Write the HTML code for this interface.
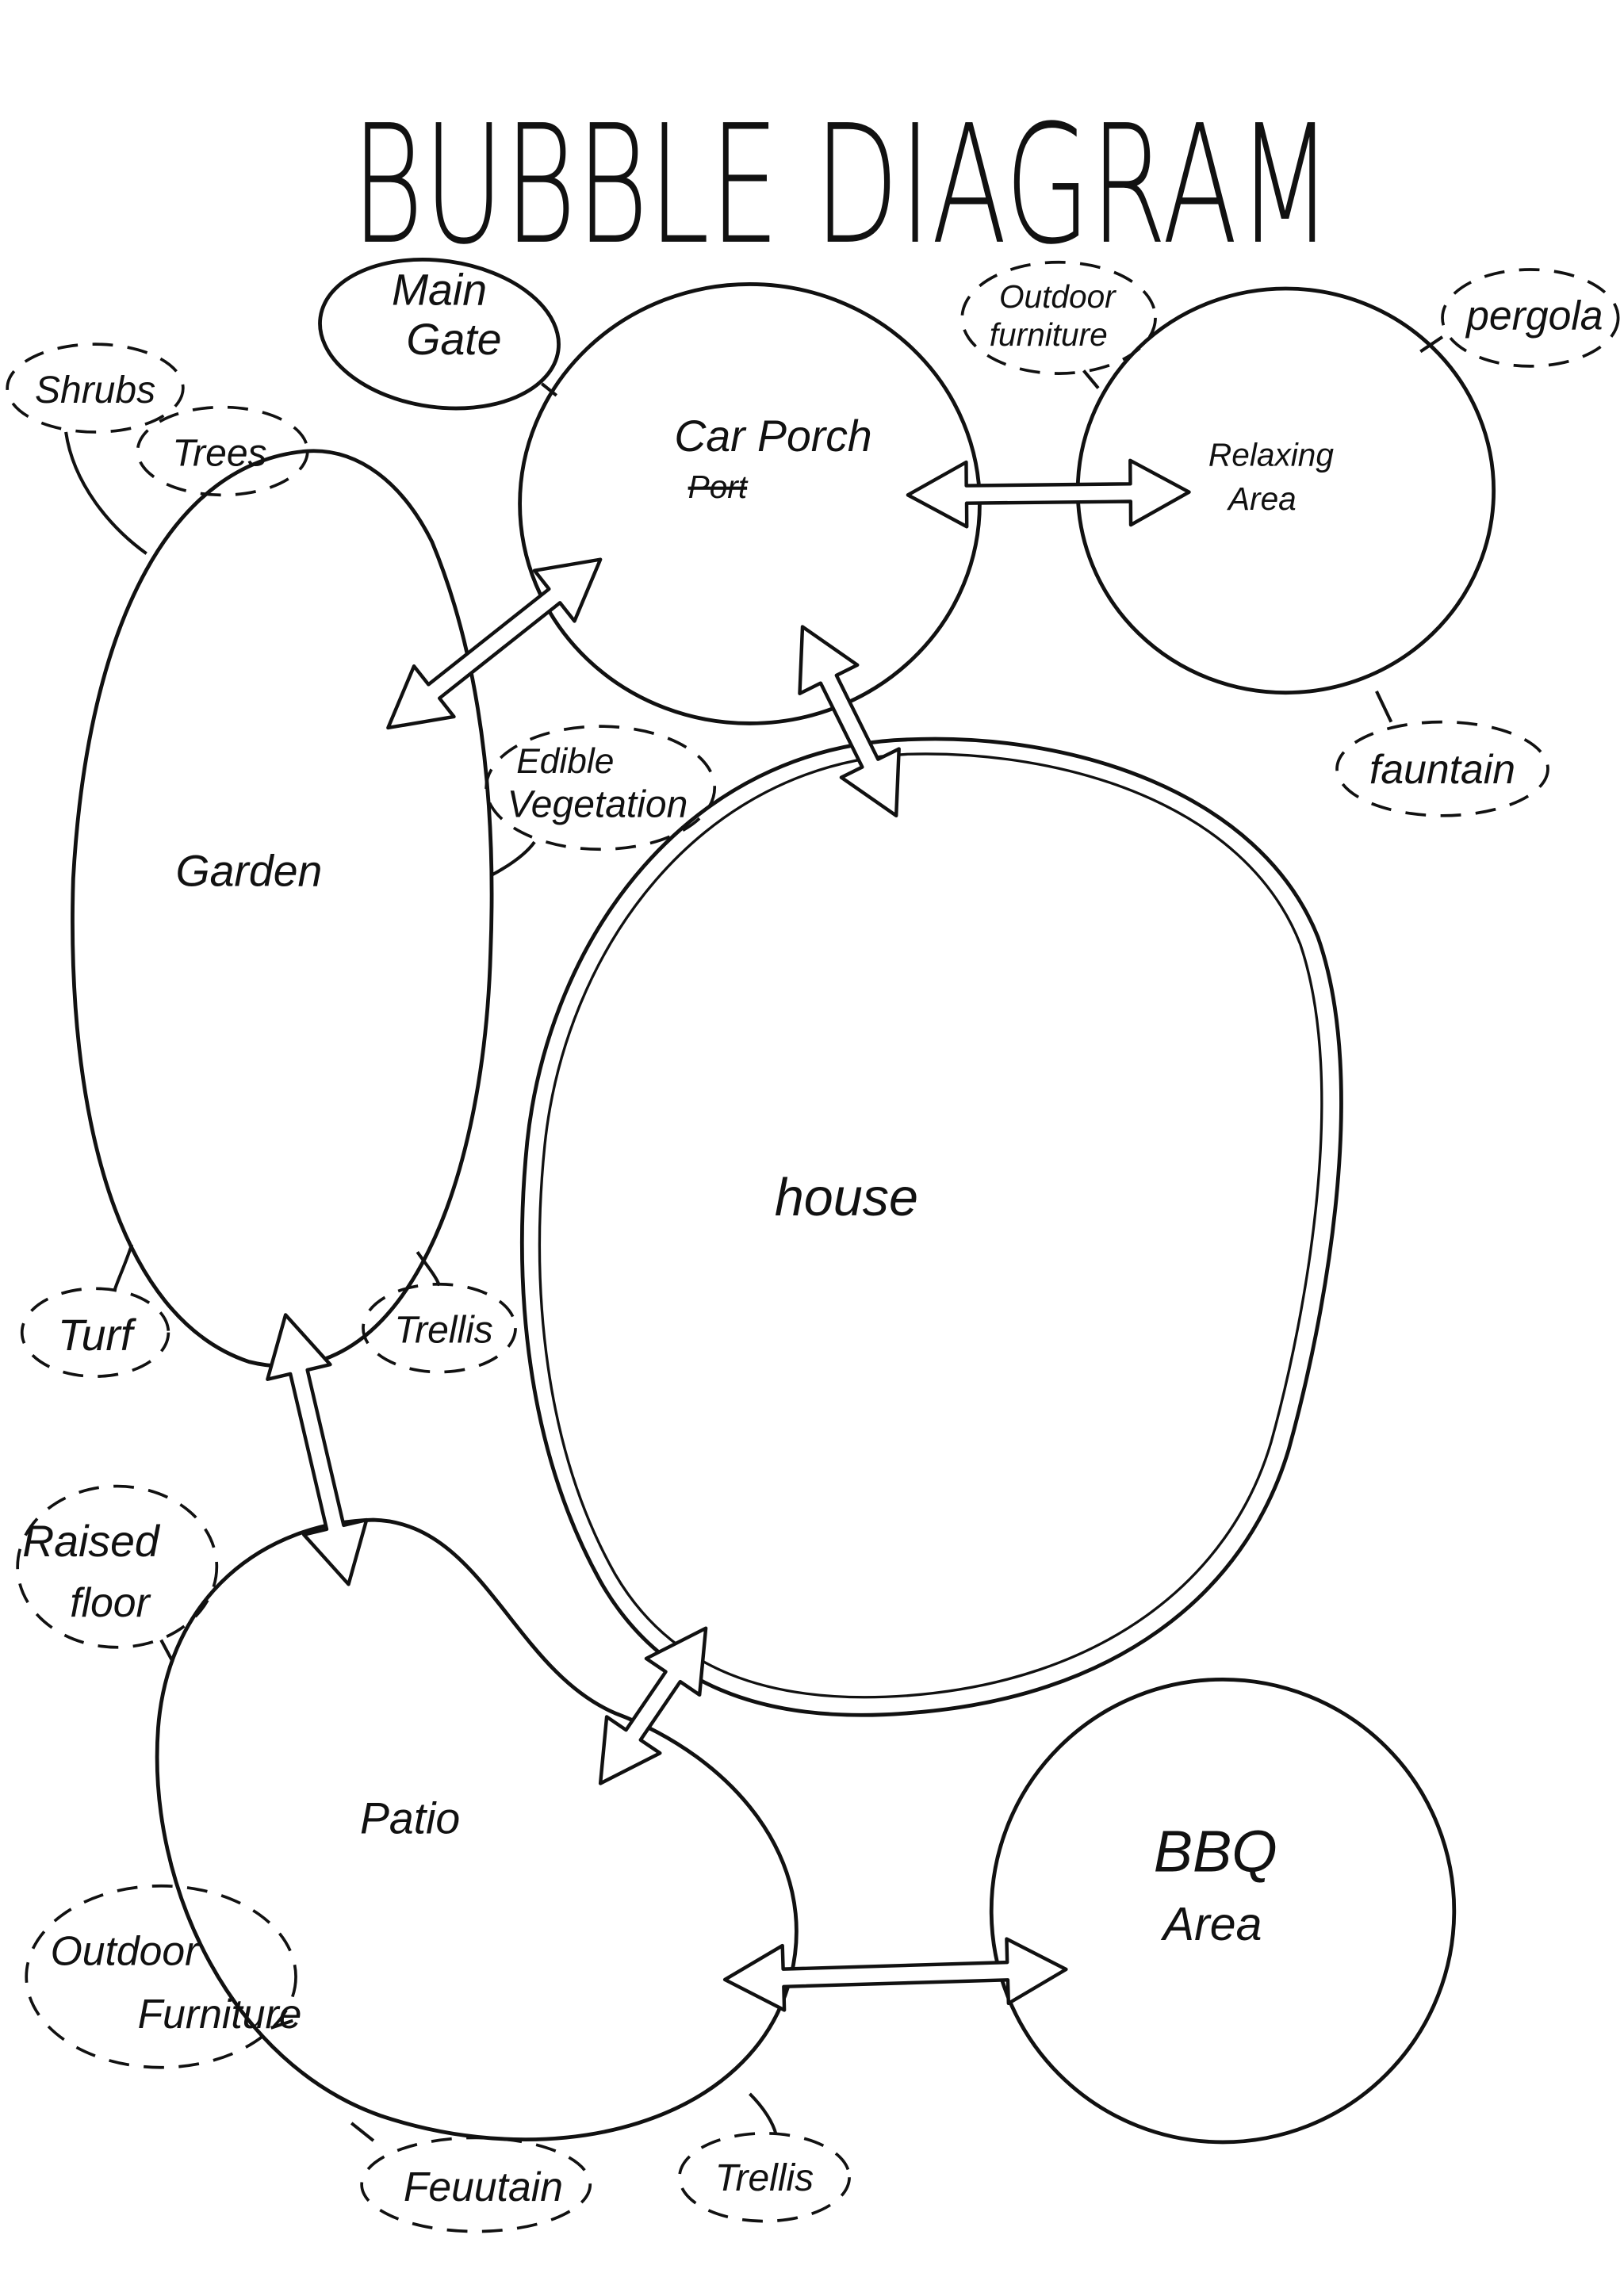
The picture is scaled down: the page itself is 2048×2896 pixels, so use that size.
<!DOCTYPE html>
<html><head><meta charset="utf-8"><style>
html,body{margin:0;padding:0;background:#fff}
svg{display:block}
text{font-family:"Liberation Sans",sans-serif;fill:#111}
</style></head><body>
<svg id="s" width="2048" height="2896" viewBox="0 0 1109 1568" xmlns="http://www.w3.org/2000/svg">
<rect width="1109" height="1568" fill="#fff"/>
<text x="575" y="165" font-size="112" text-anchor="middle" textLength="670" lengthAdjust="spacingAndGlyphs" style="font-family:'DejaVu Sans','Liberation Sans',sans-serif;font-weight:200;fill:#111">BUBBLE DIAGRAM</text>
<g fill="none" stroke="#111" stroke-width="2.6" stroke-linecap="round">
<ellipse cx="300" cy="228" rx="82" ry="50" transform="rotate(8 300 228)"/>
<ellipse cx="512" cy="344" rx="157" ry="150"/>
<ellipse cx="878" cy="335" rx="142" ry="138"/>
<path d="M210 308 C120 315 60 420 50 600 C45 760 80 900 170 930 C270 955 330 820 335 650 C340 520 320 430 295 370 C275 330 245 306 210 308 Z"/>
<path d="M620 505 C730 500 860 540 900 640 C935 740 905 900 880 990 C850 1090 760 1160 620 1170 C520 1178 450 1150 410 1080 C360 990 350 880 360 780 C375 640 470 510 620 505 Z"/>
<path d="M620 515 C725 512 850 548 888 645 C920 740 893 895 868 985 C840 1080 752 1148 620 1158 C525 1165 458 1140 420 1075 C372 990 362 880 372 782 C386 648 478 522 620 515 Z" stroke-width="1.8"/>
<path d="M255 1038 C180 1040 115 1090 108 1180 C100 1290 160 1410 260 1445 C380 1485 515 1450 540 1350 C560 1270 500 1200 420 1170 C350 1140 330 1040 255 1038 Z"/>
<ellipse cx="835" cy="1305" rx="158" ry="158"/>
</g>
<g fill="none" stroke="#111" stroke-width="2" stroke-dasharray="14 10">
<ellipse cx="65" cy="265" rx="60" ry="30"/>
<ellipse cx="152" cy="308" rx="58" ry="30"/>
<ellipse cx="723" cy="217" rx="66" ry="38"/>
<ellipse cx="1045" cy="217" rx="60" ry="33"/>
<ellipse cx="985" cy="525" rx="72" ry="32"/>
<ellipse cx="410" cy="538" rx="78" ry="42"/>
<ellipse cx="65" cy="910" rx="50" ry="30"/>
<ellipse cx="300" cy="907" rx="52" ry="30"/>
<ellipse cx="80" cy="1070" rx="68" ry="55"/>
<ellipse cx="110" cy="1350" rx="92" ry="62"/>
<ellipse cx="325" cy="1492" rx="78" ry="32"/>
<ellipse cx="522" cy="1487" rx="58" ry="30"/>
</g>
<g fill="none" stroke="#111" stroke-width="2.2">
<path d="M45 295 C50 330 75 360 100 378"/>
<path d="M370 262 L380 270"/>
<path d="M740 253 L750 265"/>
<path d="M985 230 L970 240"/>
<path d="M940 472 L950 493"/>
<path d="M335 598 C350 590 360 582 365 575"/>
<path d="M90 850 C85 865 80 875 78 882"/>
<path d="M285 855 C292 865 298 872 300 878"/>
<path d="M110 1120 L118 1135"/>
<path d="M185 1385 L200 1380"/>
<path d="M240 1450 L255 1462"/>
<path d="M512 1430 C522 1440 528 1450 530 1458"/>
</g>
<g id="arrows" fill="#fff" stroke="#111" stroke-width="2.4" stroke-linejoin="round"></g>
<g style="font-family:'Liberation Serif',serif;font-style:italic" font-size="30">
<text x="300" y="208" text-anchor="middle">Main</text>
<text x="310" y="242" text-anchor="middle">Gate</text>
<text x="528" y="308" text-anchor="middle">Car Porch</text>
<text x="490" y="340" text-anchor="middle" font-size="22" text-decoration="line-through">Port</text>
<text x="868" y="318" text-anchor="middle" font-size="22">Relaxing</text>
<text x="862" y="348" text-anchor="middle" font-size="22">Area</text>
<text x="170" y="605" text-anchor="middle">Garden</text>
<text x="578" y="830" text-anchor="middle" font-size="36">house</text>
<text x="280" y="1252" text-anchor="middle">Patio</text>
<text x="830" y="1278" text-anchor="middle" font-size="40">BBQ</text>
<text x="828" y="1325" text-anchor="middle" font-size="32">Area</text>
<text x="65" y="275" text-anchor="middle" font-size="26">Shrubs</text>
<text x="150" y="318" text-anchor="middle" font-size="26">Trees</text>
<text x="722" y="210" text-anchor="middle" font-size="22">Outdoor</text>
<text x="716" y="236" text-anchor="middle" font-size="22">furniture</text>
<text x="1048" y="225" text-anchor="middle" font-size="28">pergola</text>
<text x="985" y="535" text-anchor="middle" font-size="28">fauntain</text>
<text x="386" y="528" text-anchor="middle" font-size="24">Edible</text>
<text x="408" y="558" text-anchor="middle" font-size="26">Vegetation</text>
<text x="65" y="922" text-anchor="middle" font-size="30">Turf</text>
<text x="303" y="917" text-anchor="middle" font-size="26">Trellis</text>
<text x="62" y="1063" text-anchor="middle" font-size="30">Raised</text>
<text x="75" y="1104" text-anchor="middle" font-size="28">floor</text>
<text x="85" y="1342" text-anchor="middle" font-size="28">Outdoor</text>
<text x="150" y="1385" text-anchor="middle" font-size="28">Furniture</text>
<text x="330" y="1503" text-anchor="middle" font-size="28">Feuutain</text>
<text x="522" y="1496" text-anchor="middle" font-size="26">Trellis</text>
</g>
</svg>
<script>
function arrow(x1,y1,x2,y2){
 var dx=x2-x1,dy=y2-y1,L=Math.hypot(dx,dy),ux=dx/L,uy=dy/L,px=-uy,py=ux;
 var w=6,hw=22,hl=40;
 var pts=[[0,0],[hl,hw],[hl,w],[L-hl,w],[L-hl,hw],[L,0],[L-hl,-hw],[L-hl,-w],[hl,-w],[hl,-hw]];
 var s=pts.map(function(p){return (x1+ux*p[0]+px*p[1]).toFixed(1)+","+(y1+uy*p[0]+py*p[1]).toFixed(1)}).join(" ");
 var e=document.createElementNS("http://www.w3.org/2000/svg","polygon");
 e.setAttribute("points",s);document.getElementById("arrows").appendChild(e);
}
arrow(620,338,812,336);
arrow(265,497,410,382);
arrow(548,428,612,557);
arrow(195,898,238,1082);
arrow(482,1112,410,1218);
arrow(495,1352,728,1345);
</script>
</body></html>
